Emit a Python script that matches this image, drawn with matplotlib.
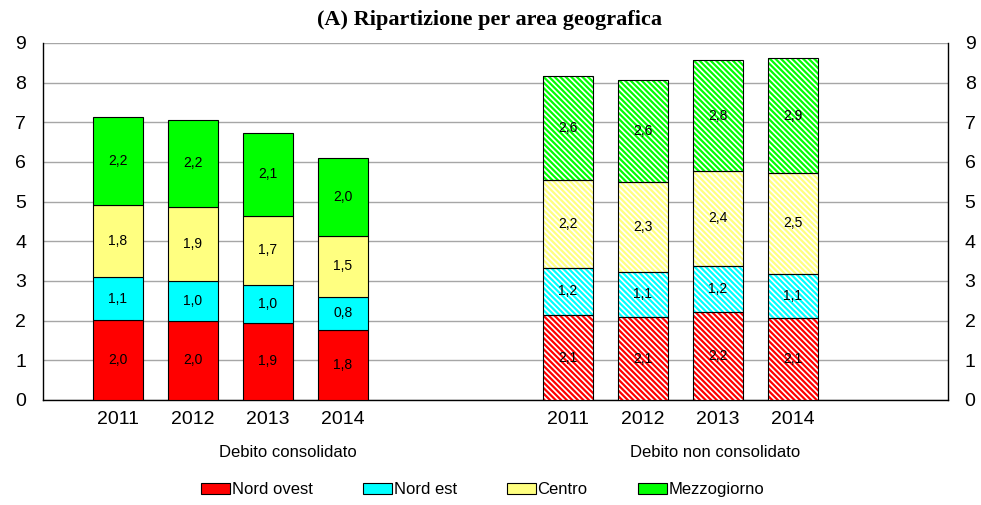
import numpy as np
import matplotlib.pyplot as plt

years = ["2011", "2012", "2013", "2014"]
groups = ["Debito consolidato", "Debito non consolidato"]
regions = ["Nord ovest", "Nord est", "Centro", "Mezzogiorno"]
colors = ["#FF0000", "#00FFFF", "#FFFF80", "#00FF00"]

# debito consolidato (per anno)
cons_no = [2.02, 1.99, 1.94, 1.76]
cons_ne = [1.07, 1.01, 0.96, 0.84]
cons_ce = [1.82, 1.87, 1.74, 1.54]
cons_me = [2.22, 2.19, 2.09, 1.97]

# debito non consolidato (per anno)
ncons_no = [2.14, 2.09, 2.22, 2.07]
ncons_ne = [1.19, 1.14, 1.16, 1.11]
ncons_ce = [2.22, 2.27, 2.39, 2.54]
ncons_me = [2.62, 2.57, 2.80, 2.90]


def lab(v):
    return ("%.1f" % v).replace(".", ",")


def main():
    plt.rcParams["hatch.linewidth"] = 1.6
    fig = plt.figure(figsize=(9.81, 5.05), dpi=100)
    ax = fig.add_axes([0.0438, 0.208, 0.9226, 0.707])

    x_c = np.arange(4)
    x_n = np.arange(4) + 6
    w = 0.667

    # consolidato: barre piene
    bottom = np.zeros(4)
    handles = []
    for vals, col, name in zip([cons_no, cons_ne, cons_ce, cons_me], colors, regions):
        b = ax.bar(x_c, vals, w, bottom=bottom, color=col, edgecolor="black",
                   linewidth=0.8, label=name, zorder=3)
        handles.append(b)
        for xi, v, b0 in zip(x_c, vals, bottom):
            ax.text(xi, b0 + v / 2, lab(v), ha="center", va="center",
                    fontsize=10, family="Liberation Sans", zorder=5)
        bottom = bottom + np.array(vals)

    # non consolidato: barre tratteggiate
    bottom = np.zeros(4)
    for vals, col in zip([ncons_no, ncons_ne, ncons_ce, ncons_me], colors):
        ax.bar(x_n, vals, w, bottom=bottom, color="white", edgecolor=col,
               hatch="\\" * 6, linewidth=0, zorder=3)
        ax.bar(x_n, vals, w, bottom=bottom, fill=False, edgecolor="black",
               linewidth=0.8, zorder=4)
        for xi, v, b0 in zip(x_n, vals, bottom):
            ax.text(xi, b0 + v / 2, lab(v), ha="center", va="center",
                    fontsize=10, family="Liberation Sans", zorder=5)
        bottom = bottom + np.array(vals)

    ax.set_xlim(-1, 11.07)
    ax.set_ylim(0, 9)
    ax.set_yticks(range(10))
    ax.yaxis.grid(True, color="#a6a6a6", linewidth=1.0, zorder=0)
    ax.set_axisbelow(True)
    ax.set_xticks(list(x_c) + list(x_n))
    ax.set_xticklabels(years + years)
    ax.tick_params(axis="both", length=0, labelsize=14)
    ax.tick_params(axis="y", labelright=True, pad=12)
    ax.tick_params(axis="x", pad=8)
    for label in ax.get_xticklabels() + ax.get_yticklabels():
        label.set_family("Liberation Sans")
    ax.spines["top"].set_color("none")
    for s in ["left", "right", "bottom"]:
        ax.spines[s].set_color("black")
        ax.spines[s].set_linewidth(1.0)

    ax.text(2.27, -1.33, groups[0], ha="center", va="center", fontsize=12,
            family="Liberation Sans")
    ax.text(7.97, -1.33, groups[1], ha="center", va="center", fontsize=12,
            family="Liberation Sans")

    fig.text(0.499, 0.96, "(A) Ripartizione per area geografica", ha="center",
             va="center", fontsize=16, fontweight="bold", family="Liberation Serif")

    fig.legend(handles=handles, labels=regions, loc="center",
               bbox_to_anchor=(0.492, 0.03), ncol=4, frameon=False,
               prop={"family": "Liberation Sans", "size": 12},
               handlelength=1.75, handleheight=0.7, handletextpad=0.1,
               columnspacing=3.0)

    fig.savefig("out.png", dpi=100)


if __name__ == '__main__':
    main()
